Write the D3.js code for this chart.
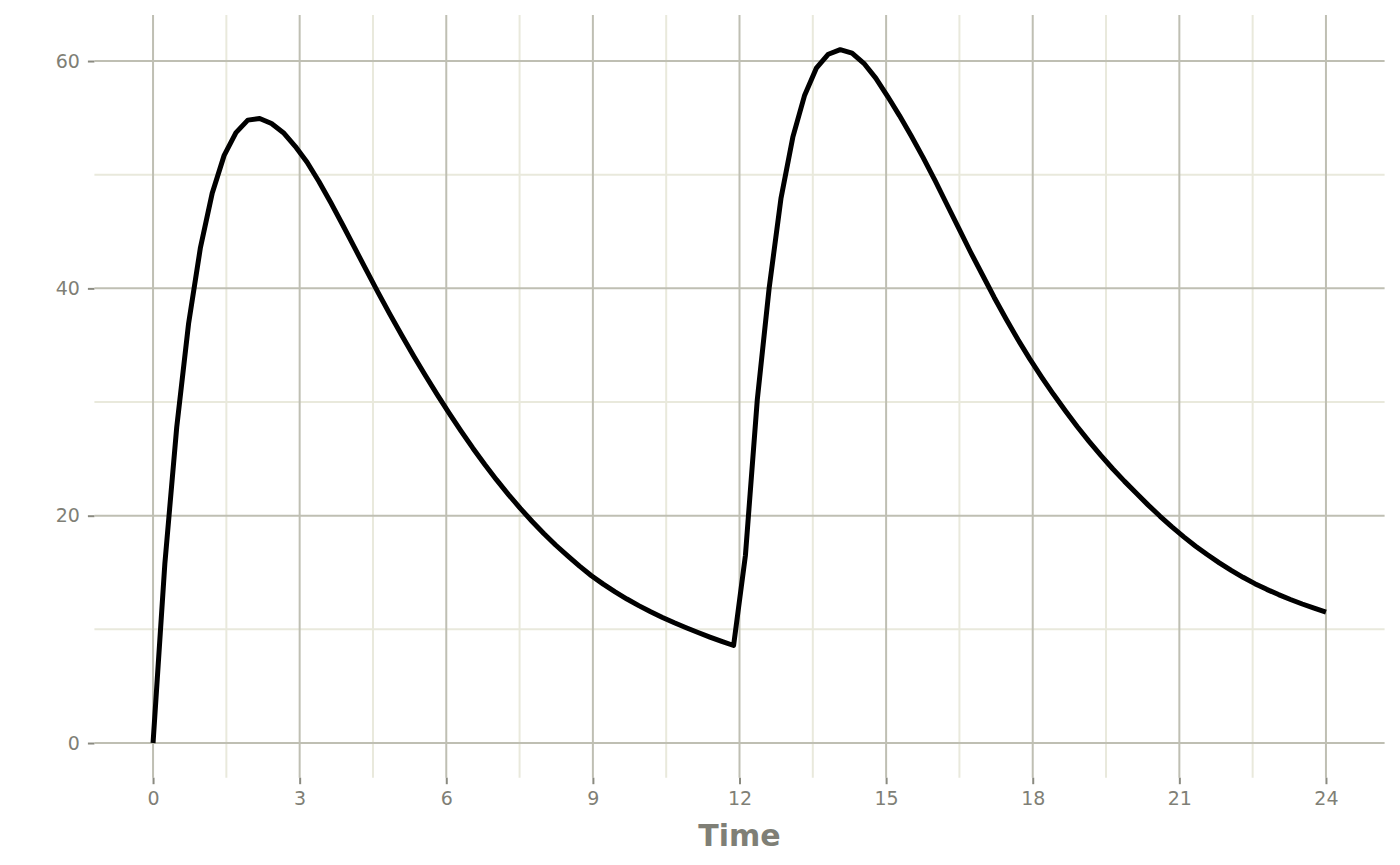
<!DOCTYPE html>
<html>
<head>
<meta charset="utf-8">
<script src="https://cdn.jsdelivr.net/npm/d3@7"></script>
<style>
  body { margin: 0; background: white; }
  text { font-family: "DejaVu Sans", sans-serif; }
</style>
</head>
<body>
<div id="chart"></div>
<script>
// Time grid (h) and concentration
const timeVals = [
  0.000, 0.242, 0.485, 0.727, 0.970, 1.212, 1.455, 1.697, 1.939, 2.182,
  2.424, 2.667, 2.909, 3.152, 3.394, 3.636, 3.879, 4.121, 4.364, 4.606,
  4.848, 5.091, 5.333, 5.576, 5.818, 6.061, 6.303, 6.545, 6.788, 7.030,
  7.273, 7.515, 7.758, 8.000, 8.242, 8.485, 8.727, 8.970, 9.212, 9.455,
  9.697, 9.939, 10.182, 10.424, 10.667, 10.909, 11.152, 11.394, 11.636, 11.879,
  12.121, 12.364, 12.606, 12.848, 13.091, 13.333, 13.576, 13.818, 14.061, 14.303,
  14.545, 14.788, 15.030, 15.273, 15.515, 15.758, 16.000, 16.242, 16.485, 16.727,
  16.970, 17.212, 17.455, 17.697, 17.939, 18.182, 18.424, 18.667, 18.909, 19.152,
  19.394, 19.636, 19.879, 20.121, 20.364, 20.606, 20.848, 21.091, 21.333, 21.576,
  21.818, 22.061, 22.303, 22.545, 22.788, 23.030, 23.273, 23.515, 23.758, 24.000
];

const concVals = [
  0, 15.8, 27.8, 36.9, 43.6, 48.4, 51.7, 53.7, 54.8, 54.95,
  54.5, 53.7, 52.5, 51.1, 49.4, 47.55, 45.6, 43.6, 41.6, 39.63,
  37.71, 35.85, 34.05, 32.31, 30.63, 29.01, 27.44, 25.94, 24.51, 23.15,
  21.86, 20.64, 19.49, 18.41, 17.40, 16.46, 15.56, 14.72, 13.98, 13.30,
  12.67, 12.09, 11.55, 11.05, 10.58, 10.14, 9.72, 9.32, 8.94, 8.58,
  16.5, 30.2, 40.0, 47.9, 53.3, 57.0, 59.4, 60.6, 61.0, 60.7,
  59.8, 58.5, 56.9, 55.2, 53.4, 51.5, 49.5, 47.4, 45.3, 43.2,
  41.2, 39.2, 37.3, 35.5, 33.8, 32.2, 30.68, 29.23, 27.85, 26.54,
  25.30, 24.13, 23.02, 21.97, 20.93, 19.95, 19.02, 18.14, 17.32, 16.56,
  15.85, 15.19, 14.58, 14.02, 13.52, 13.06, 12.63, 12.23, 11.86, 11.51
];

const xTicks = [0, 3, 6, 9, 12, 15, 18, 21, 24];
const xMinor = [1.5, 4.5, 7.5, 10.5, 13.5, 16.5, 19.5, 22.5];
const yTicks = [0, 20, 40, 60];
const yMinor = [10, 30, 50];

const data = timeVals.map((t, i) => ({ time: t, conc: concVals[i] }));

let width = 1400,
    height = 865;

let margin = { top: 15, right: 15.4, bottom: 87.3, left: 94.4 };

let svg = d3.select('#chart')
  .append('svg')
  .attr('width', width)
  .attr('height', height)
  .style('background', 'white');

// ggplot-style 5% expansion of the data range
const xExt = d3.extent(timeVals);
const yExt = d3.extent(concVals);
const xPad = (xExt[1] - xExt[0]) * 0.05;
const yPad = (yExt[1] - yExt[0]) * 0.05;

let xScale = d3.scaleLinear()
  .domain([xExt[0] - xPad, xExt[1] + xPad])
  .range([margin.left, width - margin.right]);

let yScale = d3.scaleLinear()
  .domain([yExt[0] - yPad, yExt[1] + yPad])
  .range([height - margin.bottom, margin.top]);

const gridMinor = '#e9e9dc';
const gridMajor = '#bfbfb3';
const textCol = '#7f7f76';

// minor grid
svg.append('g').selectAll('line.xminor')
  .data(xMinor).enter().append('line')
    .attr('x1', d => xScale(d)).attr('x2', d => xScale(d))
    .attr('y1', margin.top).attr('y2', height - margin.bottom)
    .attr('stroke', gridMinor).attr('stroke-width', 2);

svg.append('g').selectAll('line.yminor')
  .data(yMinor).enter().append('line')
    .attr('x1', margin.left).attr('x2', width - margin.right)
    .attr('y1', d => yScale(d)).attr('y2', d => yScale(d))
    .attr('stroke', gridMinor).attr('stroke-width', 2);

// major grid
svg.append('g').selectAll('line.xmajor')
  .data(xTicks).enter().append('line')
    .attr('x1', d => xScale(d)).attr('x2', d => xScale(d))
    .attr('y1', margin.top).attr('y2', height - margin.bottom)
    .attr('stroke', gridMajor).attr('stroke-width', 2);

svg.append('g').selectAll('line.ymajor')
  .data(yTicks).enter().append('line')
    .attr('x1', margin.left).attr('x2', width - margin.right)
    .attr('y1', d => yScale(d)).attr('y2', d => yScale(d))
    .attr('stroke', gridMajor).attr('stroke-width', 2);

// axes
let xAxis = svg.append('g')
  .attr('transform', `translate(0,${height - margin.bottom})`)
  .call(d3.axisBottom(xScale).tickValues(xTicks).tickSize(6.5).tickPadding(7));

let yAxis = svg.append('g')
  .attr('transform', `translate(${margin.left},0)`)
  .call(d3.axisLeft(yScale).tickValues(yTicks).tickSize(6.5).tickPadding(8));

[xAxis, yAxis].forEach(ax => {
  ax.select('.domain').remove();
  ax.selectAll('.tick line').attr('stroke', '#8a8a80').attr('stroke-width', 2);
  ax.selectAll('.tick text')
    .attr('fill', textCol)
    .style('font-size', '19px')
    .style('font-family', '"DejaVu Sans", sans-serif');
});

// x-axis title
svg.append('text')
  .attr('x', (margin.left + width - margin.right) / 2)
  .attr('y', 846)
  .attr('text-anchor', 'middle')
  .attr('fill', textCol)
  .style('font-size', '30px')
  .style('font-weight', 'bold')
  .text('Time');

// concentration curve
let line = d3.line()
  .x(d => xScale(d.time))
  .y(d => yScale(d.conc));

svg.append('path')
  .datum(data)
  .attr('d', line)
  .attr('fill', 'none')
  .attr('stroke', 'black')
  .attr('stroke-width', 5)
  .attr('stroke-linejoin', 'round');
</script>
</body>
</html>
